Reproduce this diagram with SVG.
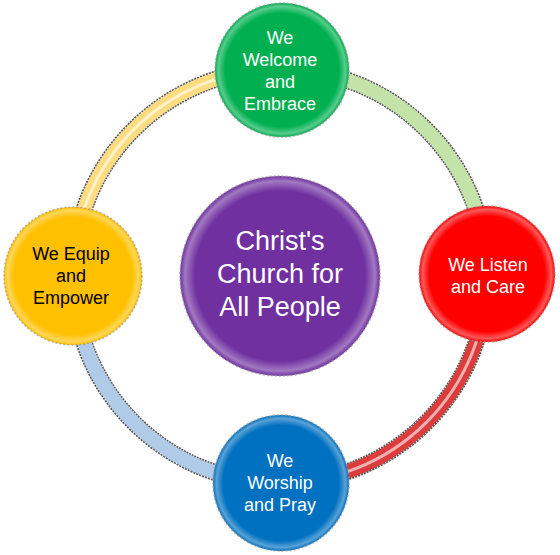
<svg xmlns="http://www.w3.org/2000/svg" width="560" height="555" viewBox="0 0 560 555">
<defs>
<style>
.edge{fill:none;stroke:#555;stroke-width:17;stroke-dasharray:2 1}
.tube{fill:none;stroke-width:14}
.hl{fill:none;stroke:#fff;stroke-width:3;opacity:0.6}
.out{fill:none;stroke:#999;stroke-width:1.5;stroke-dasharray:2 2;opacity:0.7}
text{font-family:"Liberation Sans",Arial,sans-serif;text-anchor:middle;fill:#fff}
.s{font-size:18px}
.c{font-size:27px}
</style>
<radialGradient id="gloss" cx="0.5" cy="0.5" r="0.5">
<stop offset="0.85" stop-color="#fff" stop-opacity="0"/>
<stop offset="0.95" stop-color="#fff" stop-opacity="0.35"/>
<stop offset="1" stop-color="#fff" stop-opacity="0"/>
</radialGradient>
</defs>
<g id="connectors">
<path class="edge" d="M280,69 A207,207 0 0 1 487,276"/>
<path class="tube" stroke="#c4e3a8" d="M280,69 A207,207 0 0 1 487,276"/>
<path class="edge" d="M487,276 A207,207 0 0 1 280,483"/>
<path class="tube" stroke="#dc3c3c" d="M487,276 A207,207 0 0 1 280,483"/>
<path class="hl" d="M487,276 A207,207 0 0 1 280,483"/>
<path class="edge" d="M280,483 A207,207 0 0 1 73,276"/>
<path class="tube" stroke="#afcbe8" d="M280,483 A207,207 0 0 1 73,276"/>
<path class="edge" d="M73,276 A207,207 0 0 1 280,69"/>
<path class="tube" stroke="#ffdc80" d="M73,276 A207,207 0 0 1 280,69"/>
<path class="hl" d="M73,276 A207,207 0 0 1 280,69"/>
</g>
<g id="center">
<circle cx="280" cy="276" r="100" fill="#7030a0"/>
<circle cx="280" cy="276" r="100" fill="url(#gloss)"/>
<circle class="out" cx="280" cy="276" r="100"/>
<text class="c" x="280" y="250">Christ's</text>
<text class="c" x="280" y="283">Church for</text>
<text class="c" x="280" y="316">All People</text>
</g>
<g id="welcome">
<circle cx="282" cy="70" r="67" fill="#00b050"/>
<circle cx="282" cy="70" r="67" fill="url(#gloss)"/>
<circle class="out" cx="282" cy="70" r="67"/>
<text class="s" x="280" y="44">We</text>
<text class="s" x="280" y="66">Welcome</text>
<text class="s" x="280" y="88">and</text>
<text class="s" x="280" y="110">Embrace</text>
</g>
<g id="listen">
<circle cx="487" cy="274" r="68" fill="#ff0000"/>
<circle cx="487" cy="274" r="68" fill="url(#gloss)"/>
<circle class="out" cx="487" cy="274" r="68"/>
<text class="s" x="488" y="271">We Listen</text>
<text class="s" x="488" y="293">and Care</text>
</g>
<g id="worship">
<circle cx="281" cy="483" r="68" fill="#0070c0"/>
<circle cx="281" cy="483" r="68" fill="url(#gloss)"/>
<circle class="out" cx="281" cy="483" r="68"/>
<text class="s" x="280" y="467">We</text>
<text class="s" x="280" y="489">Worship</text>
<text class="s" x="280" y="511">and Pray</text>
</g>
<g id="equip">
<circle cx="73" cy="276" r="69" fill="#ffc000"/>
<circle cx="73" cy="276" r="69" fill="url(#gloss)"/>
<circle class="out" cx="73" cy="276" r="69"/>
<text class="s" x="71" y="260" style="fill:#000">We Equip</text>
<text class="s" x="71" y="282" style="fill:#000">and</text>
<text class="s" x="71" y="304" style="fill:#000">Empower</text>
</g>
</svg>
